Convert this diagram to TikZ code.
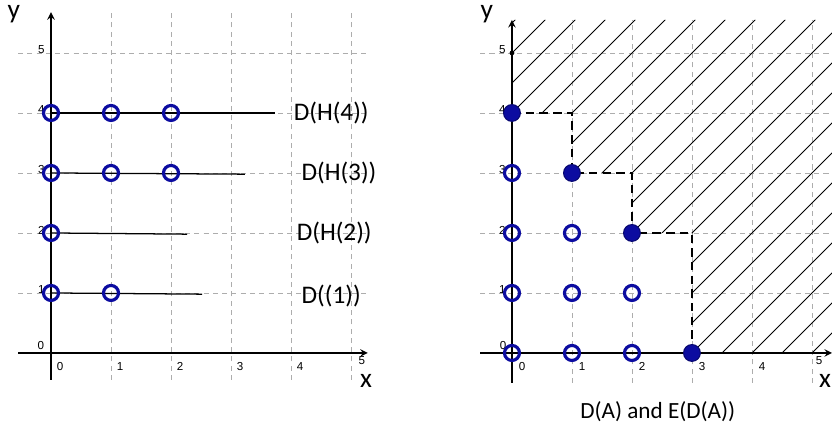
\documentclass[tikz,border=0pt]{standalone}
\usepackage{fontspec}
\setmainfont{Carlito}
\newfontfamily\tickfont{Liberation Sans}
\definecolor{ptblue}{RGB}{12,12,160}
\newcommand{\ticklab}[1]{{\tickfont\fontsize{5.5}{6}\selectfont #1}}
\begin{document}
\begin{tikzpicture}[x=1cm,y=1cm,
  gridline/.style={black!32,dash pattern=on 2.4pt off 2pt,line width=0.4pt},
  axis/.style={line width=0.6pt,->,>=stealth},
  opendot/.style={circle,draw=ptblue,line width=1.5pt,minimum size=0.25cm,inner sep=0pt},
  fulldot/.style={circle,draw=ptblue!70!black,fill=ptblue,line width=0.5pt,minimum size=0.28cm,inner sep=0pt},
  hline/.style={line width=0.6pt},
  stair/.style={line width=0.6pt,dash pattern=on 4pt off 2.5pt},
  hatch/.style={line width=0.45pt},
  setlab/.style={font=\fontsize{12}{14}\selectfont},
  caplab/.style={font=\fontsize{11}{13}\selectfont},
  axlab/.style={font=\fontsize{13}{15}\selectfont}]
\useasboundingbox (-0.85,-1.317) rectangle (13.017,5.883);

% left panel: the sets D(H(n))
\foreach \i in {1,...,5} {
  \draw[gridline] (\i,-0.45) -- (\i,5.68);
  \draw[gridline] (-0.55,\i) -- (5.32,\i);
}
\draw[axis] (-0.55,0) -- (5.28,0);
\draw[axis] (0,-0.45) -- (0,5.68);
\foreach \i in {0,...,4}
  \node[inner sep=0] at (\i+0.15,-0.22) {\ticklab{\i}};
\node[inner sep=0] at (5.18,-0.13) {\ticklab{5}};
\foreach \i in {1,...,5}
  \node[inner sep=0] at (-0.16,\i+0.05) {\ticklab{\i}};
\node[inner sep=0] at (-0.17,0.13) {\ticklab{0}};
\node[axlab] (ly) at (-0.62,5.64) {y};
\node[axlab] (lx) at (5.25,-0.46) {x};

\coordinate (e4) at (3.73,4);
\coordinate (e3) at (3.23,2.98);
\coordinate (e2) at (2.27,1.98);
\coordinate (e1) at (2.52,0.98);
\draw[hline] (0,4) -- (e4);
\draw[hline] (0,3) -- (e3);
\draw[hline] (0,2) -- (e2);
\draw[hline] (0,1) -- (e1);

\foreach \p/\q in {0/4,1/4,2/4,0/3,1/3,2/3,0/2,0/1,1/1}
  \node[opendot] (l\p\q) at (\p,\q) {};

\node[setlab] (dh4) at (4.67,4) {D(H(4))};
\node[setlab] (dh3) at (4.80,3) {D(H(3))};
\node[setlab] (dh2) at (4.72,2) {D(H(2))};
\node[setlab] (d1) at (4.67,0.95) {D((1))};

% right panel: D(A) and E(D(A))
\begin{scope}[xshift=7.683cm]
\foreach \i in {1,...,5} {
  \draw[gridline] (\i,-0.5) -- (\i,5.55);
  \draw[gridline] (-0.53,\i) -- (5.334,\i);
}
\begin{scope}
  \clip (0,4) -- (1,4) -- (1,3) -- (2,3) -- (2,2) -- (3,2) -- (3,0)
    -- (5.334,0) -- (5.334,5.55) -- (0,5.55) -- cycle;
  \foreach \c in {-5.5,-5,...,5.5}
    \draw[hatch] (\c,0) -- ++(6,6);
\end{scope}
\draw[axis] (-0.53,0) -- (5.334,0);
\draw[axis] (0,-0.5) -- (0,5.55);
\foreach \i in {0,...,4}
  \node[inner sep=0] at (\i+0.17,-0.23) {\ticklab{\i}};
\node[inner sep=0] at (5.12,-0.12) {\ticklab{5}};
\foreach \i in {1,...,5}
  \node[inner sep=0] at (-0.16,\i+0.05) {\ticklab{\i}};
\node[inner sep=0] at (-0.15,0.13) {\ticklab{0}};
\node[axlab] (ry) at (-0.42,5.64) {y};
\node[axlab] (rx) at (5.22,-0.46) {x};

\draw[stair] (0,4) -- (1,4) -- (1,3) -- (2,3) -- (2,2) -- (3,2) -- (3,0);

\foreach \p/\q in {0/3,0/2,1/2,0/1,1/1,2/1,0/0,1/0,2/0}
  \node[opendot] (r\p\q) at (\p,\q) {};
\foreach \p/\q in {0/4,1/3,2/2,3/0}
  \node[fulldot] (f\p\q) at (\p,\q) {};
\node[circle,fill=black,inner sep=0pt,minimum size=0.08cm] (top) at (0,5) {};

\node[caplab] (cap) at (2.43,-0.97) {D(A) and E(D(A))};
\end{scope}
\end{tikzpicture}
\end{document}
